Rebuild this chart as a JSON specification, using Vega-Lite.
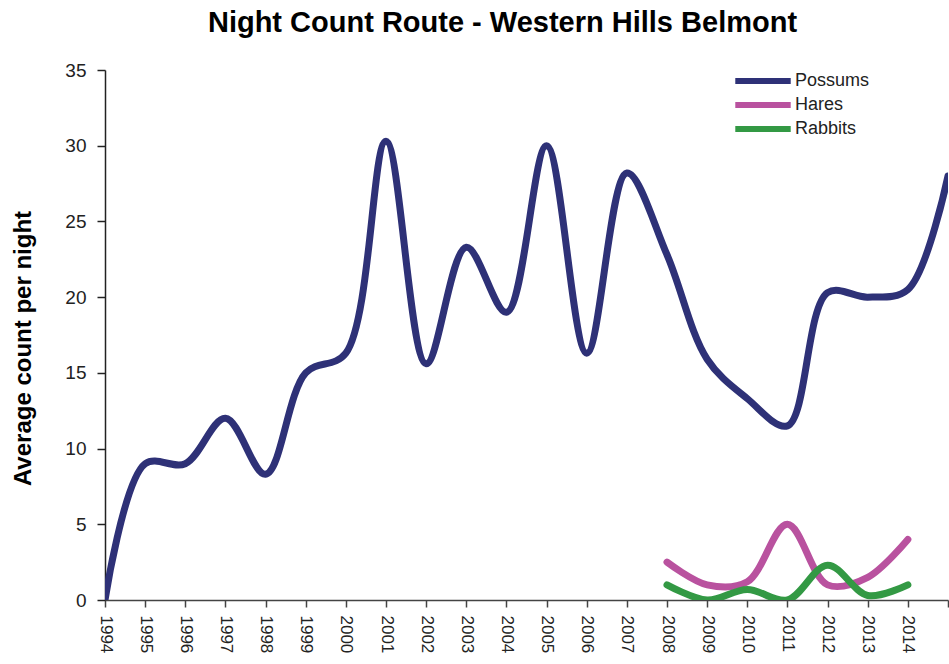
{
  "$schema": "https://vega.github.io/schema/vega-lite/v6.json",
  "width": 843,
  "height": 530,
  "autosize": {"type": "none"},
  "padding": {"left": 105, "top": 70, "right": 1, "bottom": 64},
  "background": "white",
  "title": {
    "text": "Night Count Route - Western Hills Belmont",
    "font": "Liberation Sans",
    "fontSize": 29,
    "fontWeight": "bold",
    "color": "#000000",
    "offset": 23,
    "dx": -24
  },
  "config": {
    "view": {"stroke": null},
    "font": "Liberation Sans"
  },
  "data": {
    "values": [
      {"year": 1994, "species": "Possums", "count": 0},
      {"year": 1995, "species": "Possums", "count": 9},
      {"year": 1996, "species": "Possums", "count": 9},
      {"year": 1997, "species": "Possums", "count": 12},
      {"year": 1998, "species": "Possums", "count": 8.3},
      {"year": 1999, "species": "Possums", "count": 15},
      {"year": 2000, "species": "Possums", "count": 16.3},
      {"year": 2001, "species": "Possums", "count": 30.3},
      {"year": 2002, "species": "Possums", "count": 15.6},
      {"year": 2003, "species": "Possums", "count": 23.3},
      {"year": 2004, "species": "Possums", "count": 19},
      {"year": 2005, "species": "Possums", "count": 30},
      {"year": 2006, "species": "Possums", "count": 16.3},
      {"year": 2007, "species": "Possums", "count": 28.2},
      {"year": 2008, "species": "Possums", "count": 22.8},
      {"year": 2009, "species": "Possums", "count": 15.9},
      {"year": 2010, "species": "Possums", "count": 13.3},
      {"year": 2011, "species": "Possums", "count": 11.5},
      {"year": 2012, "species": "Possums", "count": 20.3},
      {"year": 2013, "species": "Possums", "count": 20},
      {"year": 2014, "species": "Possums", "count": 20.5},
      {"year": 2015, "species": "Possums", "count": 28},
      {"year": 2008, "species": "Hares", "count": 2.5},
      {"year": 2009, "species": "Hares", "count": 1},
      {"year": 2010, "species": "Hares", "count": 1.2},
      {"year": 2011, "species": "Hares", "count": 5},
      {"year": 2012, "species": "Hares", "count": 1},
      {"year": 2013, "species": "Hares", "count": 1.5},
      {"year": 2014, "species": "Hares", "count": 4},
      {"year": 2008, "species": "Rabbits", "count": 1},
      {"year": 2009, "species": "Rabbits", "count": 0},
      {"year": 2010, "species": "Rabbits", "count": 0.7},
      {"year": 2011, "species": "Rabbits", "count": 0},
      {"year": 2012, "species": "Rabbits", "count": 2.3},
      {"year": 2013, "species": "Rabbits", "count": 0.3},
      {"year": 2014, "species": "Rabbits", "count": 1}
    ]
  },
  "mark": {"type": "line", "interpolate": "catmull-rom", "strokeWidth": 7, "strokeCap": "round", "clip": true},
  "encoding": {
    "x": {
      "field": "year",
      "type": "quantitative",
      "scale": {"domain": [1994, 2015], "nice": false, "zero": false},
      "axis": {
        "values": [1994,1995,1996,1997,1998,1999,2000,2001,2002,2003,2004,2005,2006,2007,2008,2009,2010,2011,2012,2013,2014,2015],
        "labelExpr": "datum.value == 2015 ? '' : datum.value",
        "labelAngle": 90,
        "labelAlign": "left",
        "labelBaseline": "middle",
        "labelFont": "Liberation Sans",
        "labelFontSize": 17,
        "labelColor": "#222222",
        "labelPadding": 8,
        "title": null,
        "grid": false,
        "domainColor": "#444444",
        "tickColor": "#444444",
        "tickSize": 7,
        "domainWidth": 1.5,
        "tickWidth": 1.5,
        "labelOverlap": false,
        "labelFlush": false
      }
    },
    "y": {
      "field": "count",
      "type": "quantitative",
      "scale": {"domain": [0, 35], "nice": false},
      "axis": {
        "values": [0,5,10,15,20,25,30,35],
        "title": "Average count per night",
        "titleFont": "Liberation Sans",
        "titleFontSize": 24,
        "titleFontWeight": "bold",
        "titleColor": "#000000",
        "titleX": -70,
        "titleY": 278,
        "labelFont": "Liberation Sans",
        "labelFontSize": 19,
        "labelColor": "#222222",
        "labelPadding": 11,
        "grid": false,
        "domainColor": "#222222",
        "tickColor": "#222222",
        "tickSize": 8,
        "domainWidth": 1.5,
        "tickWidth": 1.5
      }
    },
    "color": {
      "field": "species",
      "type": "nominal",
      "scale": {"domain": ["Possums", "Hares", "Rabbits"], "range": ["#2E3177", "#B9529F", "#339944"]},
      "legend": {
        "title": null,
        "orient": "none",
        "legendX": 646,
        "legendY": -1,
        "symbolType": "M-3.2,0H3.2",
        "symbolStrokeWidth": 6,
        "symbolSize": 300,
        "symbolFillColor": "transparent",
        "labelFont": "Liberation Sans",
        "labelFontSize": 18,
        "labelColor": "#222222",
        "labelOffset": 20,
        "rowPadding": 0
      }
    }
  }
}
